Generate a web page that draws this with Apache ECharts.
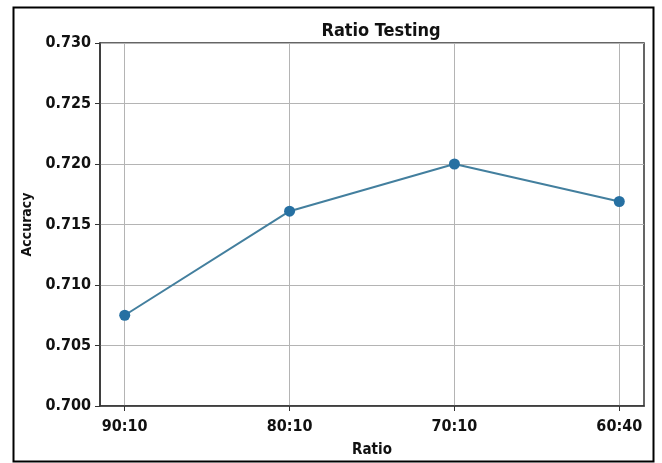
<!DOCTYPE html>
<html>
<head>
<meta charset="utf-8">
<script src="https://cdn.jsdelivr.net/npm/echarts@6/dist/echarts.min.js"></script>
<style>
  html, body { margin: 0; padding: 0; background: #fff; }
  #chart { width: 662px; height: 463px; }
</style>
</head>
<body>
<div id="chart"></div>
<script>
// Train/test split ratios and the accuracy reached with each
const ratios = ['90:10', '80:10', '70:10', '60:40'];
const accuracy = [0.7075, 0.7161, 0.7200, 0.7169];
const yTicks = [0.700, 0.705, 0.710, 0.715, 0.720, 0.725, 0.730];

const positions = ratios.map((_, i) => i);
const points = accuracy.map((v, i) => [i, v]);

const font = '"DejaVu Sans Condensed", "DejaVu Sans", sans-serif';
const chart = echarts.init(document.getElementById('chart'), null, { renderer: 'canvas' });

chart.setOption({
  backgroundColor: '#ffffff',
  animation: false,
  title: {
    text: 'Ratio Testing',
    left: 376,
    textAlign: 'center',
    top: 17,
    textStyle: { fontFamily: font, fontSize: 18, fontWeight: 'bold', color: '#111' }
  },
  grid: {
    left: 100, right: 18, top: 43, bottom: 55,
    show: true, borderColor: '#333', borderWidth: 1.5, backgroundColor: 'transparent'
  },
  xAxis: {
    type: 'value',
    min: -0.15,
    max: 3.15,
    name: 'Ratio',
    nameLocation: 'middle',
    nameGap: 37,
    nameTextStyle: { fontFamily: font, fontSize: 15, fontWeight: 'bold', color: '#111' },
    axisLine: { show: true, onZero: false, lineStyle: { color: '#333', width: 1.5 } },
    axisTick: { show: true, customValues: positions, length: 5, lineStyle: { color: '#333' } },
    axisLabel: {
      customValues: positions,
      margin: 13,
      fontFamily: font, fontSize: 16, fontWeight: 'bold', color: '#111',
      formatter: v => ratios[Math.round(v)]
    },
    splitLine: { show: true, lineStyle: { color: '#b4b4b4', width: 1 } }
  },
  yAxis: {
    type: 'value',
    min: yTicks[0],
    max: yTicks[yTicks.length - 1],
    interval: 0.005,
    name: 'Accuracy',
    nameLocation: 'middle',
    nameGap: 63,
    nameTextStyle: { fontFamily: font, fontSize: 14, fontWeight: 'bold', color: '#111' },
    axisLine: { show: true, onZero: false, lineStyle: { color: '#333', width: 1.5 } },
    axisTick: { show: true, length: 5, lineStyle: { color: '#333' } },
    axisLabel: {
      margin: 9,
      fontFamily: font, fontSize: 16, fontWeight: 'bold', color: '#111',
      formatter: v => v.toFixed(3)
    },
    splitLine: { show: true, lineStyle: { color: '#b4b4b4', width: 1 } }
  },
  graphic: [{
    type: 'rect',
    left: 11, top: 5,
    shape: { width: 640, height: 454 },
    style: { fill: 'none', stroke: '#000', lineWidth: 2 },
    silent: true
  }],
  series: [{
    type: 'line',
    data: points,
    symbol: 'circle',
    symbolSize: 11,
    lineStyle: { color: '#437f9e', width: 2 },
    itemStyle: { color: '#2670a2' }
  }]
});
</script>
</body>
</html>
